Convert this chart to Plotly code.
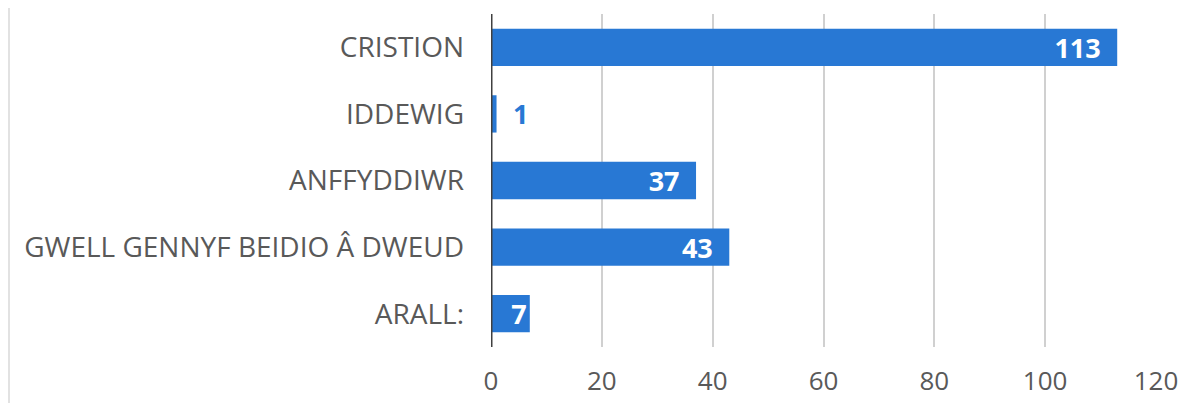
import plotly.graph_objects as go

categories = ["CRISTION", "IDDEWIG", "ANFFYDDIWR", "GWELL GENNYF BEIDIO Â DWEUD", "ARALL:"]
values = [113, 1, 37, 43, 7]
tick_vals = [0, 20, 40, 60, 80, 100, 120]

BLUE = "#2878d4"
# the page body adds an 8px margin, so the figure is sized to the visible area
W, H = 1178, 395
ML, MR, MT, MB = 483, 30, 6, 56
FONT = "Open Sans"

positions = ["inside" if v > 5 else "outside" for v in values]
SP = "\u2002"
labels = []
for v, p in zip(values, positions):
    if p == "outside":
        labels.append(f"{SP}{v}")
    elif v >= 20:
        labels.append(f"{v}{SP}")
    else:
        labels.append(f"{v}")

fig = go.Figure(go.Bar(
    y=categories, x=values, orientation="h",
    marker=dict(color=BLUE, line=dict(width=0)),
    text=labels,
    textposition=positions,
    insidetextanchor="end",
    textangle=0,
    constraintext="none",
    outsidetextfont=dict(family=FONT, size=27, color=BLUE, weight="bold"),
    insidetextfont=dict(family=FONT, size=27, color="white", weight="bold"),
    cliponaxis=False,
    width=0.56,
))

fig.update_layout(
    width=W, height=H,
    margin=dict(l=ML, r=MR, t=MT, b=MB, autoexpand=False),
    paper_bgcolor="white", plot_bgcolor="white",
    showlegend=False,
    font=dict(family=FONT, size=27, color="#595959"),
    uniformtext=dict(minsize=8, mode=False),
)
fig.update_xaxes(
    range=[0, 120], tickvals=tick_vals, ticktext=[str(t) for t in tick_vals],
    showgrid=True, gridcolor="#d0d0d0", gridwidth=1.5,
    zeroline=False, showline=False, ticks="", automargin=False,
    tickfont=dict(family=FONT, size=26, color="#595959"),
    ticklabelstandoff=16,
)
fig.update_yaxes(
    categoryorder="array", categoryarray=categories, autorange="reversed",
    showgrid=False, zeroline=False, showline=False, ticks="", automargin=False,
    tickfont=dict(family=FONT, size=28, color="#595959"),
    ticklabelstandoff=26,
)
# zero axis line
fig.add_shape(type="line", xref="x", yref="paper", x0=0, x1=0, y0=0, y1=1,
              line=dict(color="#404040", width=3), layer="above")
# faint outer chart border at left edge
plot_w = W - ML - MR
plot_h = H - MT - MB
bx = (1 - ML) / plot_w
fig.add_shape(type="line", xref="paper", yref="paper", x0=bx, x1=bx,
              y0=-MB / plot_h, y1=1 + MT / plot_h,
              line=dict(color="#d9d9d9", width=1.5))

fig.write_html("out.html")
